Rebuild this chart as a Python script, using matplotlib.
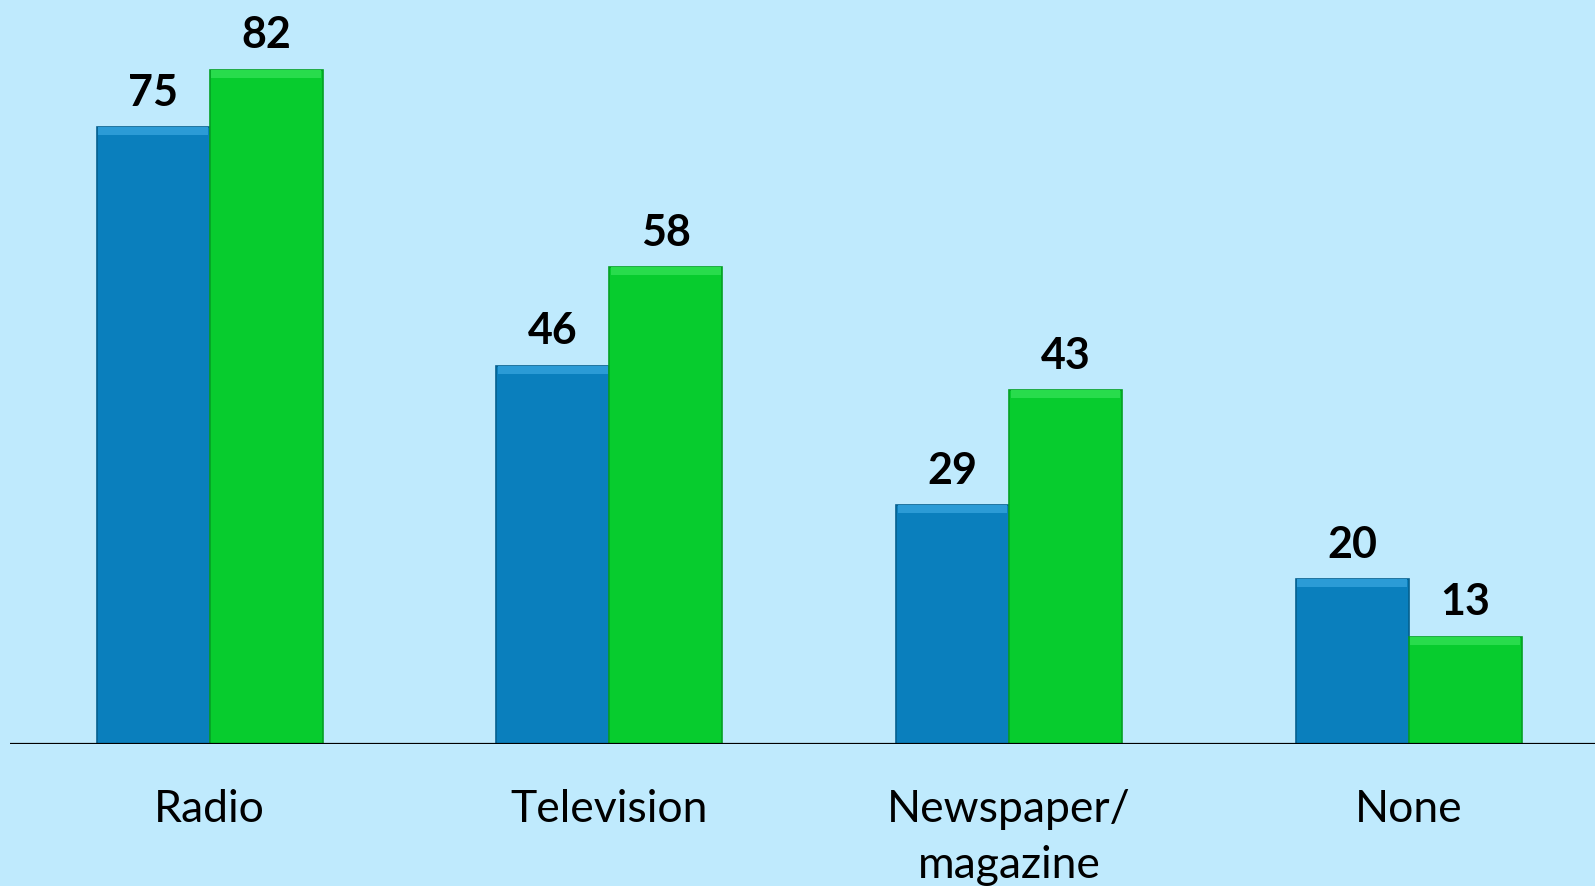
import matplotlib
matplotlib.use("Agg")
import matplotlib.pyplot as plt
import numpy as np

plt.rcParams.update({
    "font.family": ["Lato", "DejaVu Sans"],
})

categories = ["Radio", "Television", "Newspaper/\nmagazine", "None"]
series_a = [75, 46, 29, 20]
series_b = [82, 58, 43, 13]

BG = "#bfeafd"
BLUE = "#0a7fbd"
GREEN = "#07cc2e"

fig = plt.figure(figsize=(15.95, 8.87), dpi=100)
fig.patch.set_facecolor(BG)
ax = fig.add_axes([0.0064, 0.1606, 0.9936, 0.8394])
ax.set_facecolor(BG)

x = np.arange(len(categories))
w = 0.283

bars_a = ax.bar(x - w / 2, series_a, w, color=BLUE, edgecolor="#06608f", linewidth=1.2, zorder=2)
bars_b = ax.bar(x + w / 2, series_b, w, color=GREEN, edgecolor="#05a024", linewidth=1.2, zorder=2)

# light bevel strip on top of each bar
for vals, off, c in [(series_a, -w / 2, "#2b9bd6"), (series_b, w / 2, "#28dc4c")]:
    ax.bar(x + off, [1.0] * len(vals), w * 0.97, bottom=np.array(vals) - 1.0,
           color=c, linewidth=0, zorder=3)

for bars, vals in [(bars_a, series_a), (bars_b, series_b)]:
    for b, v in zip(bars, vals):
        ax.annotate(str(v), (b.get_x() + b.get_width() / 2, v),
                    xytext=(0, 11), textcoords="offset points",
                    ha="center", va="bottom", fontsize=31, fontweight="bold", color="black")

ax.set_xlim(-0.499, 3.466)
ax.set_ylim(0, 90.6)
ax.axhline(0, color="black", linewidth=1.6, zorder=4)
for s in ax.spines.values():
    s.set_visible(False)
ax.set_yticks([])
ax.set_xticks(x)
ax.set_xticklabels(categories, fontsize=32, linespacing=1.45, va="top")
ax.tick_params(axis="x", length=0, pad=32)

fig.savefig("out.png", dpi=100, facecolor=BG)
